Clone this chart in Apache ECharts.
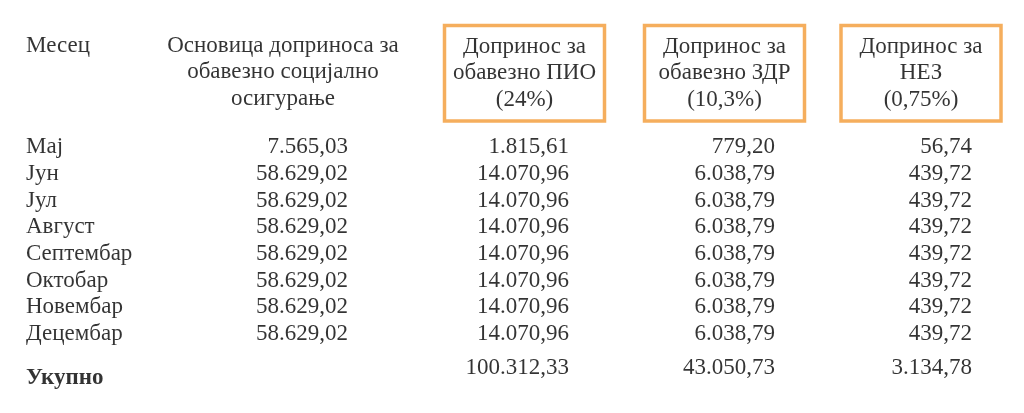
<!DOCTYPE html>
<html>
<head>
<meta charset="utf-8">
<script src="https://cdn.jsdelivr.net/npm/echarts@6/dist/echarts.min.js"></script>
<style>
html,body{margin:0;padding:0;background:#fff;}
#main{width:1024px;height:413px;}
</style>
</head>
<body>
<div id="main"></div>
<script>
// ---- data ----
const months = ['Мај', 'Јун', 'Јул', 'Август', 'Септембар', 'Октобар', 'Новембар', 'Децембар'];
const totalLabel = 'Укупно';
const columnHeaders = [
  'Месец',
  'Основица доприноса за\nобавезно социјално\nосигурање',
  'Допринос за\nобавезно ПИО\n(24%)',
  'Допринос за\nобавезно ЗДР\n(10,3%)',
  'Допринос за\nНЕЗ\n(0,75%)'
];
const baseValues = [7565.03, 58629.02, 58629.02, 58629.02, 58629.02, 58629.02, 58629.02, 58629.02];
const pioValues = [1815.61, 14070.96, 14070.96, 14070.96, 14070.96, 14070.96, 14070.96, 14070.96];
const zdrValues = [779.20, 6038.79, 6038.79, 6038.79, 6038.79, 6038.79, 6038.79, 6038.79];
const nezValues = [56.74, 439.72, 439.72, 439.72, 439.72, 439.72, 439.72, 439.72];
const totals = [null, 100312.33, 43050.73, 3134.78];

// ---- styling / layout ----
const FONT = '"Liberation Serif", "DejaVu Serif", serif';
const FS = 23;
const TXT = '#000000';
const ORANGE = '#F29A35';
const colKeys = ['c0', 'c1', 'c2', 'c3', 'c4'];
const rowCats = months.concat([totalLabel]);
const numOffsetX = [0, 0, 13, 11, 0];
const headerOffset = [[-114, -101], [-65, -75], [-31.5, -74], [-39.5, -74], [-51, -74]];
const totalOffsetY = 7;
const totalLabelOffsetY = 17;

function fmt(v) {
  const parts = v.toFixed(2).split('.');
  const intPart = parts[0].replace(/\B(?=(\d{3})+(?!\d))/g, '.');
  return intPart + ',' + parts[1];
}

const baseText = { fontFamily: FONT, fontSize: FS, color: TXT };

const series = [];

// month names column
series.push({
  type: 'scatter', symbolSize: 0, silent: true,
  data: months.map(m => ({ value: [colKeys[0], m] })).concat([{
    value: [colKeys[0], totalLabel],
    label: { fontWeight: 'bold', offset: [-114, totalLabelOffsetY] }
  }]),
  label: Object.assign({
    show: true, position: 'right', distance: 0, offset: [-114, 0],
    formatter: p => p.value[1]
  }, baseText)
});

// numeric columns
[baseValues, pioValues, zdrValues, nezValues].forEach((arr, i) => {
  const c = i + 1;
  const data = arr.map((v, r) => ({ value: [colKeys[c], months[r], v] }));
  if (totals[i] != null) {
    data.push({ value: [colKeys[c], totalLabel, totals[i]], label: { offset: [numOffsetX[c], totalOffsetY] } });
  }
  series.push({
    type: 'scatter', symbolSize: 0, silent: true,
    data: data,
    label: Object.assign({
      show: true, position: 'left', distance: 0, offset: [numOffsetX[c], 0],
      formatter: p => fmt(p.value[2])
    }, baseText)
  });
});

// header row
series.push({
  type: 'scatter', symbolSize: 0, silent: true,
  data: columnHeaders.map((h, c) => {
    const item = { value: [colKeys[c], months[0], h], label: { offset: headerOffset[c] } };
    if (c === 0) {
      item.label.position = 'right';
      item.label.distance = 0;
      item.label.align = 'left';
    }
    if (c >= 2) {
      item.label.borderColor = ORANGE;
      item.label.borderWidth = 3.5;
      item.label.width = 158;
      item.label.padding = [8, 1];
    }
    return item;
  }),
  label: Object.assign({
    show: true, position: 'inside', align: 'center', verticalAlign: 'middle',
    lineHeight: 26.5,
    formatter: p => p.value[2]
  }, baseText)
});

const chart = echarts.init(document.getElementById('main'), null, { renderer: 'canvas' });
chart.setOption({
  backgroundColor: '#ffffff',
  animation: false,
  grid: { left: 140, right: 52, top: 134, bottom: 39 },
  xAxis: { type: 'category', data: colKeys, boundaryGap: false, show: false },
  yAxis: { type: 'category', data: rowCats, inverse: true, show: false },
  series: series
});
</script>
</body>
</html>
